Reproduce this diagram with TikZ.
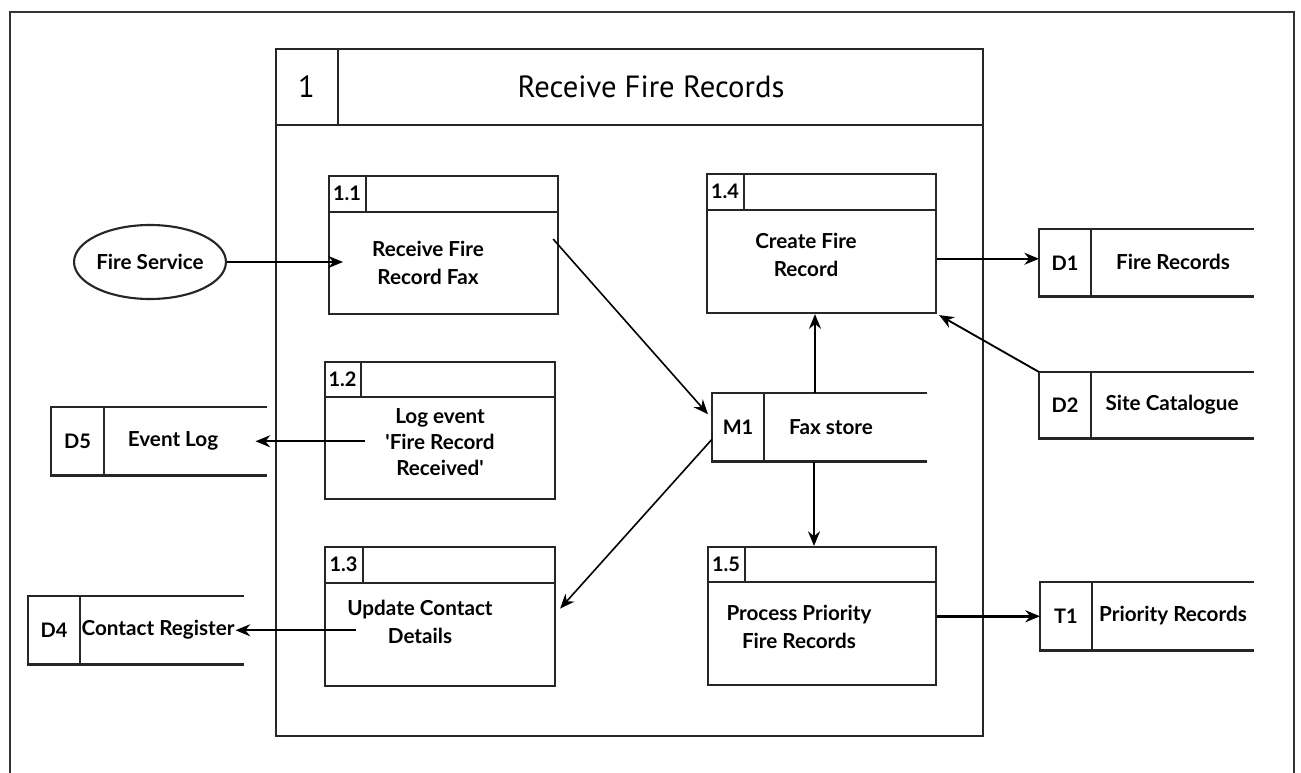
\documentclass[tikz,border=0pt]{standalone}
\usepackage{fontspec}
\setmainfont{Lato}[Ligatures=TeXOff]
\newfontfamily\titlefont{PT Sans}
\usetikzlibrary{arrows.meta,calc,shapes.geometric}

\newcommand\procbox[8]{%
  \node[box, anchor=north west, minimum width=#4*0.75pt, minimum height=#5*0.75pt] (#1) at (#2,#3) {};
  \draw[boxline] ($(#1.north west)+(0,#6)$) -- ($(#1.north east)+(0,#6)$);
  \draw[boxline] ($(#1.north west)+(#7,0)$) -- ($(#1.north west)+(#7,#6)$);
  \node[idtext] (#1id) at ($(#1.north west)+(#7/2,#6/2)$) {#8};
}
\newcommand\storebox[7]{%
  \node[storenode, anchor=north west, minimum width=#4*0.75pt, minimum height=#5*0.75pt] (#1) at (#2,#3) {};
  \draw[boxline] (#1.north east) -- (#1.north west) -- (#1.south west) -- (#1.south east);
  \draw[boxline] ($(#1.north west)+(#6,0)$) -- ($(#1.south west)+(#6,0)$);
  \node[idtext] (#1id) at ($(#1.west)+(#6/2,0)$) {#7};
}

\begin{document}
\begin{tikzpicture}[x=0.75pt,y=-0.75pt,
  boxline/.style={line width=1.6pt, draw=black!85},
  box/.style={rectangle, draw=black!85, line width=1.6pt, inner sep=0pt},
  storenode/.style={rectangle, inner sep=0pt},
  idtext/.style={font=\bfseries\fontsize{15}{18}\selectfont, inner sep=0pt},
  lbl/.style={font=\bfseries\fontsize{15.5}{21}\selectfont, align=center, inner sep=0pt},
  flow/.style={line width=1.4pt, draw=black, -{Stealth[length=11pt,width=9pt]}},
  thinflow/.style={flow, line width=1.2pt},
  frame/.style={line width=1.6pt, draw=black!80}]
\useasboundingbox (0,0) rectangle (1301,773);

% outer frame
\draw[frame] (10,773) -- (10,12) -- (1294,12) -- (1294,773);

% main process
\procbox{p1}{275}{48}{707}{687}{77}{63}{}
\node[font=\titlefont\fontsize{23}{27}\selectfont] (p1num) at ($(p1.north west)+(31.5,38.5)$) {1};
\node[font=\titlefont\fontsize{23}{27}\selectfont] (p1title) at (651,87) {Receive Fire Records};

% sub processes
\procbox{p11}{328}{175}{229}{138}{37}{38}{1.1}
\procbox{p12}{324}{361}{230}{137}{36}{37}{1.2}
\procbox{p13}{324}{546}{230}{139}{37}{39}{1.3}
\procbox{p14}{706}{173}{229}{139}{37}{38}{1.4}
\procbox{p15}{707}{546}{228}{138}{36}{38}{1.5}

\node[lbl] (p11t) at (428,263) {Receive Fire\\Record Fax};
\node[lbl, font=\bfseries\fontsize{15.5}{19.5}\selectfont] (p12t) at (440,442) {Log event\\'Fire Record\\Received'};
\node[lbl] (p13t) at (420,622) {Update Contact\\Details};
\node[lbl] (p14t) at (806,255) {Create Fire\\Record};
\node[lbl] (p15t) at (799,627) {Process Priority\\Fire Records};

% stores
\storebox{m1}{712}{393}{214}{68}{52}{M1}
\storebox{d1}{1039}{229}{214}{67}{52}{D1}
\storebox{d2}{1039}{372}{214}{66}{52}{D2}
\storebox{t1}{1040}{582}{213}{68}{52}{T1}
\storebox{d5}{51}{407}{215}{68}{53}{D5}
\storebox{d4}{28}{596}{215}{68}{52}{D4}

\node[lbl] (m1t) at (831,427) {Fax store};
\node[lbl] (d1t) at (1173,262) {Fire Records};
\node[lbl] (d2t) at (1172,405) {Site Catalogue};
\node[lbl] (t1t) at (1173,616) {Priority Records};
\node[lbl] (d5t) at (173,441) {Event Log};
\node[lbl] (d4t) at (158,630) {Contact Register};

% external entity
\node[ellipse, draw=black!85, line width=1.6pt, minimum width=140*0.75pt, minimum height=74*0.75pt, inner sep=0pt, font=\bfseries\fontsize{15.5}{18}\selectfont] (fire) at (150,262) {Fire Service};

% flows
\draw[flow] (fire.east) -- ($(fire.east -| p11.west)+(15,0)$);
\draw[thinflow] ($(p11.east)+(-6,-6)$) -- ($(m1.west)+(-4,-13)$);
\draw[flow] ($(p12.west |- d5.east)+(41,0)$) -- ($(d5.east)+(-11,0)$);
\draw[flow] ($(p13.west |- d4.east)+(32,0)$) -- ($(d4.east)+(-8,0)$);
\draw[thinflow] ($(m1.west)+(0,12)$) -- ($(p13.east)+(4,-8)$);
\draw[flow] ($(m1.north west)+(103,0)$) -- ($(p14.south west)+(109,0)$);
\draw[flow] ($(m1.south west)+(102,0)$) -- ($(p15.north west)+(107,0)$);
\draw[flow] ($(p14.east |- d1.west)+(0,-4)$) -- ($(d1.west)+(0,-4)$);
\draw[flow] (d2.north west) -- ($(p14.south east)+(2,1)$);
\draw[flow, line width=2.4pt] (p15.east |- t1.west) -- (t1.west);
\end{tikzpicture}
\end{document}
